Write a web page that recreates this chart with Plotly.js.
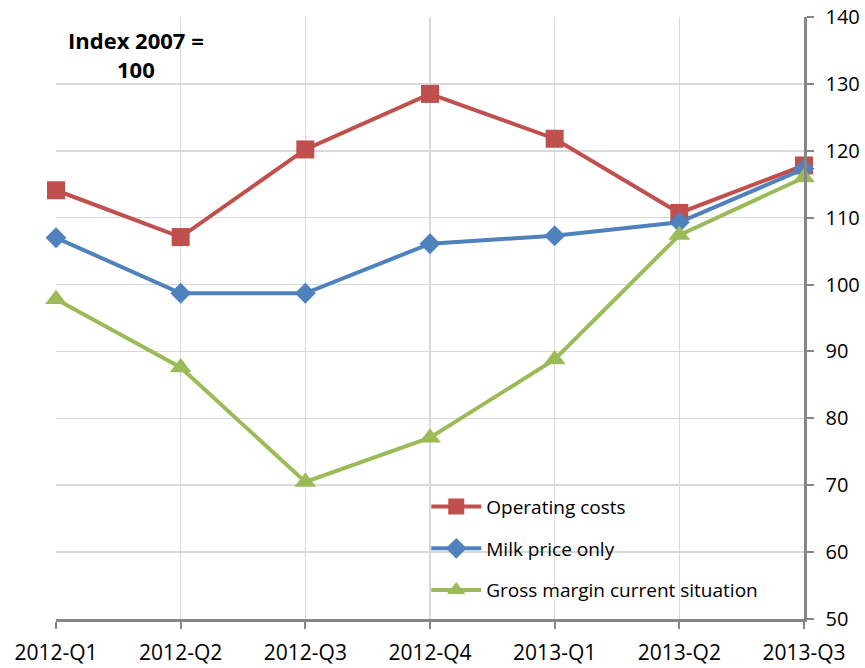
<!DOCTYPE html>
<html>
<head>
<meta charset="utf-8">
<script src="https://cdn.plot.ly/plotly-3.0.1.min.js"></script>
<style>html,body{margin:0;padding:0;background:#fff;}#chart{width:865px;height:668px;}</style>
</head>
<body>
<div id="chart"></div>
<script>
const categories = ["2012-Q1","2012-Q2","2012-Q3","2012-Q4","2013-Q1","2013-Q2","2013-Q3"];
const operatingCosts = [114.1, 107.1, 120.2, 128.5, 121.8, 110.7, 117.8];
const milkPriceOnly = [107.0, 98.7, 98.7, 106.1, 107.3, 109.3, 117.3];
const grossMargin = [97.8, 87.6, 70.5, 77.1, 88.8, 107.4, 116.0];
const seriesNames = ["Operating costs", "Milk price only", "Gross margin current situation"];
const yTicks = [50, 60, 70, 80, 90, 100, 110, 120, 130, 140];

const fontFam = "'Open Sans', sans-serif";

const traces = [
  {x: categories, y: operatingCosts, name: seriesNames[0], type: "scatter", mode: "lines+markers", cliponaxis: false,
   line: {color: "#C0504D", width: 4}, marker: {symbol: "square", size: 18, color: "#C0504D"}, legendgroup: "a"},
  {x: categories, y: milkPriceOnly, name: seriesNames[1], type: "scatter", mode: "lines+markers", cliponaxis: false,
   line: {color: "#4F81BD", width: 4}, marker: {symbol: "diamond", size: 16, color: "#4F81BD"}, legendgroup: "b"},
  {x: categories, y: grossMargin, name: seriesNames[2], type: "scatter", mode: "lines+markers", cliponaxis: false,
   line: {color: "#9BBB59", width: 4}, marker: {symbol: "triangle-up", size: 19, color: "#9BBB59"}, legendgroup: "c"}
];

const layout = {
  width: 865, height: 668,
  margin: {l: 56, r: 61, t: 17, b: 49},
  paper_bgcolor: "#fff", plot_bgcolor: "#fff",
  font: {family: fontFam, size: 19, color: "#000"},
  showlegend: true,
  legend: {x: 0.495, y: 0.218, xanchor: "left", yanchor: "top", bgcolor: "rgba(0,0,0,0)",
           font: {family: fontFam, size: 19, color: "#000"}, tracegroupgap: 14, itemwidth: 50},
  xaxis: {
    type: "category", range: [0, 6], showgrid: true, gridcolor: "#D9D9D9", gridwidth: 1.5,
    showline: true, linecolor: "#868686", linewidth: 2.5, ticks: "outside", ticklen: 7, tickcolor: "#868686", tickwidth: 2,
    tickfont: {family: fontFam, size: 21, color: "#000"}, ticklabelstandoff: 6, zeroline: false, fixedrange: true
  },
  yaxis: {
    side: "right", range: [50, 140], tickvals: yTicks, ticktext: yTicks.map(String),
    showgrid: true, gridcolor: "#D9D9D9", gridwidth: 1.5,
    showline: true, linecolor: "#868686", linewidth: 2.5, ticks: "outside", ticklen: 7, tickcolor: "#868686", tickwidth: 2,
    tickfont: {family: fontFam, size: 20, color: "#000"}, ticklabelstandoff: 8, zeroline: false, fixedrange: true
  },
  annotations: [
    {text: "<b>Index 2007 =<br>100</b>", xref: "paper", yref: "paper", x: 0.107, y: 0.99, xanchor: "center", yanchor: "top",
     showarrow: false, align: "center", font: {family: fontFam, size: 22, color: "#000"}}
  ]
};

Plotly.newPlot("chart", traces, layout, {displayModeBar: false, staticPlot: true});
</script>
</body>
</html>
